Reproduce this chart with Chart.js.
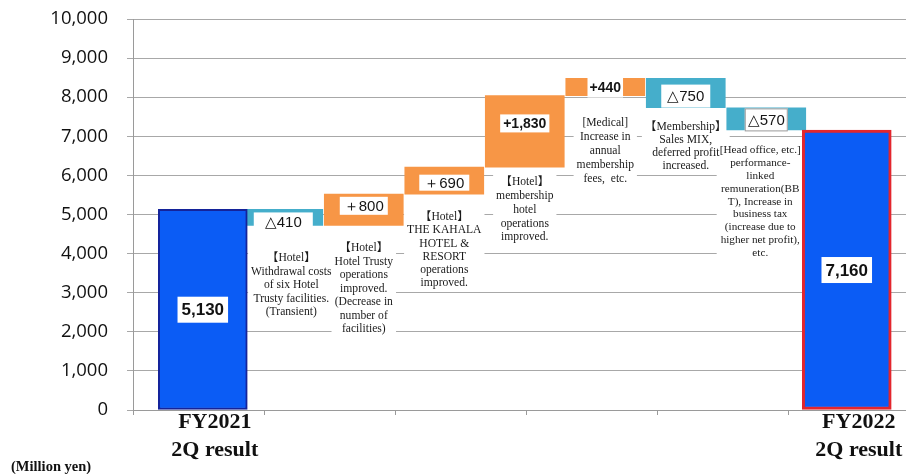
<!DOCTYPE html>
<html><head><meta charset="utf-8">
<script src="https://cdn.jsdelivr.net/npm/chart.js@4.4.1/dist/chart.umd.min.js"></script>
<style>html,body{margin:0;padding:0;background:#fff}#wrap{width:906px;height:474px;position:relative}</style>
</head><body><div id="wrap"><canvas id="c" width="906" height="474"></canvas></div>
<script>
// ---------- data ----------
const categories = ['FY2021 2Q result','Hotel Trusty withdrawal','Hotel Trusty operations','THE KAHALA','Membership hotel','Medical','Membership sales MIX','Head office','FY2022 2Q result'];
const startValue = 5130;
const endValue = 7160;
const changes = [-410, 800, 690, 1830, 440, -750, -570];
const changeLabels = ['△410','＋800','＋690','+1,830','+440','△750','△570'];
const totalLabels = ['5,130','7,160'];
const axisLabels = [['FY2021','2Q result'],['FY2022','2Q result']];
const descriptions = [
  ['【Hotel】','Withdrawal costs','of six Hotel','Trusty facilities.','(Transient)'],
  ['【Hotel】','Hotel Trusty','operations','improved.','(Decrease in','number of','facilities)'],
  ['【Hotel】','THE KAHALA','HOTEL &','RESORT','operations','improved.'],
  ['【Hotel】','membership','hotel','operations','improved.'],
  ['[Medical]','Increase in','annual','membership','fees,  etc.'],
  ['【Membership】','Sales MIX,','deferred profit','increased.'],
  ['[Head office, etc.]','performance-','linked','remuneration(BB','T), Increase in','business tax','(increase due to','higher net profit),','etc.']
];
const yMin = 0, yMax = 10000, yStep = 1000;
const unitLabel = '(Million yen)';

// ---------- derived floating ranges ----------
const ranges = [];
let run = startValue;
changes.forEach(c => { ranges.push([run, run + c]); run += c; });

// ---------- styling / layout tweaks ----------
const BLUE = '#0b5cf5', TEAL = '#45aecb', ORANGE = '#f79646';
const descDx = [8, 0, 0, 0, 0, 0, -6];
const descDy = [33, 23, 23, 15, 27, 19, 20];
const descLh = [13.5, 13.5, 13.2, 13.8, 14, 13, 12.9];
const descSize = [11.6, 11.6, 11.6, 11.6, 11.6, 11.6, 11.2];
const valDy  = [4, -4, 2, -8, 0, 3, 1];
const valPad = [11, 4, 5, 3, 2, 6, 3];
const valH   = [18, 18, 16, 18, 21, 23, 23];
const valFont = ['15px "Liberation Sans", sans-serif','15px "Liberation Sans", sans-serif','15px "Liberation Sans", sans-serif',
  'bold 14px "Liberation Sans", sans-serif','bold 14px "Liberation Sans", sans-serif','15px "Liberation Sans", sans-serif','15px "Liberation Sans", sans-serif'];

const wfPlugin = {
  id: 'wf',
  beforeDatasetsDraw(chart) {
    const {ctx, scales: {x, y}} = chart;
    ctx.save();
    ctx.textAlign = 'center'; ctx.textBaseline = 'middle';
    const fontOf = i => descSize[i] + 'px "Liberation Serif", "Noto Sans CJK JP", serif';
    const blocks = descriptions.map((lines, i) => {
      ctx.font = fontOf(i);
      const lo = Math.min(ranges[i][0], ranges[i][1]);
      const cx = x.getPixelForValue(i + 1) + descDx[i];
      const top = y.getPixelForValue(lo) + descDy[i];
      const w = Math.max(...lines.map(l => ctx.measureText(l).width)) + 6;
      return {lines, cx, top, w, lh: descLh[i], font: fontOf(i)};
    });
    ctx.fillStyle = '#fff';
    blocks.forEach(b => ctx.fillRect(b.cx - b.w / 2, b.top - b.lh / 2 - 2, b.w, b.lines.length * b.lh + 4));
    ctx.fillStyle = '#1a1a1a';
    blocks.forEach(b => { ctx.font = b.font; b.lines.forEach((l, k) => ctx.fillText(l, b.cx, b.top + k * b.lh)); });
    ctx.restore();
  },
  afterDatasetsDraw(chart) {
    const {ctx, scales: {x, y}} = chart;
    ctx.save();
    ctx.textAlign = 'center'; ctx.textBaseline = 'middle';
    changeLabels.forEach((t, i) => {
      const cx = x.getPixelForValue(i + 1);
      const cy = y.getPixelForValue((ranges[i][0] + ranges[i][1]) / 2) + valDy[i];
      ctx.font = valFont[i];
      const w = ctx.measureText(t).width + valPad[i] * 2;
      ctx.fillStyle = '#fff';
      ctx.fillRect(cx - w / 2, cy - valH[i] / 2, w, valH[i]);
      if (i === 6) { ctx.strokeStyle = '#9a9a9a'; ctx.lineWidth = 1; ctx.strokeRect(cx - w / 2 + 0.5, cy - valH[i] / 2 + 0.5, w - 1, valH[i] - 1); }
      ctx.fillStyle = '#151515';
      ctx.fillText(t, cx, cy + 1);
    });
    const totVals = [startValue, endValue];
    totalLabels.forEach((t, k) => {
      const cx = x.getPixelForValue(k === 0 ? 0 : 8);
      const cy = y.getPixelForValue(totVals[k] / 2);
      ctx.font = 'bold 17px "Liberation Sans", sans-serif';
      const w = ctx.measureText(t).width + 8;
      ctx.fillStyle = '#fff';
      ctx.fillRect(cx - w / 2, cy - 13, w, 26);
      ctx.fillStyle = '#111';
      ctx.fillText(t, cx, cy + 1);
    });
    ctx.font = 'bold 22px "Liberation Serif", serif';
    ctx.fillStyle = '#111';
    axisLabels.forEach((lines, k) => {
      const cx = x.getPixelForValue(k === 0 ? 0 : 8) + 12;
      lines.forEach((l, j) => ctx.fillText(l, cx, 422 + j * 28));
    });
    ctx.font = 'bold 14.5px "Liberation Serif", serif';
    ctx.textAlign = 'left';
    ctx.fillText(unitLabel, 11, 467);
    ctx.restore();
  }
};

new Chart(document.getElementById('c'), {
  type: 'bar',
  data: {
    labels: categories,
    datasets: [
      {
        label: 'Result',
        data: [{x: 0, y: startValue}, {x: 8, y: endValue}],
        backgroundColor: BLUE,
        borderColor: ['#14239a', '#e3262d'],
        borderWidth: [2, 3],
        borderSkipped: false,
        barThickness: 89,
        grouped: false
      },
      {
        label: 'Change',
        data: ranges.map((r, i) => ({x: i + 1, y: r})),
        backgroundColor: changes.map(c => c < 0 ? TEAL : ORANGE),
        borderWidth: 0,
        barThickness: 79,
        grouped: false
      }
    ]
  },
  options: {
    responsive: false,
    animation: false,
    devicePixelRatio: 1,
    layout: {padding: {top: 19, right: 0, bottom: 0, left: 0}},
    plugins: {legend: {display: false}, tooltip: {enabled: false}},
    scales: {
      x: {
        type: 'linear',
        min: -0.867, max: 8.736,
        offset: false,
        afterBuildTicks(scale) {
          const t = [];
          for (let v = scale.min; v <= scale.max + 1e-6; v += 1.629) t.push({value: v});
          scale.ticks = t;
        },
        afterFit(scale) { scale.height = 64; scale.paddingLeft = 0; scale.paddingRight = 0; },
        ticks: {display: false},
        grid: {drawOnChartArea: false, offset: false, tickLength: 5, color: '#9a9a9a'},
        border: {color: '#9a9a9a', width: 1}
      },
      y: {
        min: yMin, max: yMax,
        afterFit(scale) { scale.width = 133; scale.paddingTop = 0; scale.paddingBottom = 0; },
        ticks: {
          stepSize: yStep,
          padding: 19,
          color: '#111',
          font: {family: '"Open Sans", sans-serif', size: 18.5},
          callback: v => v.toLocaleString('en-US')
        },
        grid: {color: '#a8a8a8', tickLength: 6, lineWidth: 1},
        border: {color: '#9a9a9a', width: 1}
      }
    }
  },
  plugins: [wfPlugin]
});
</script>
</body></html>
